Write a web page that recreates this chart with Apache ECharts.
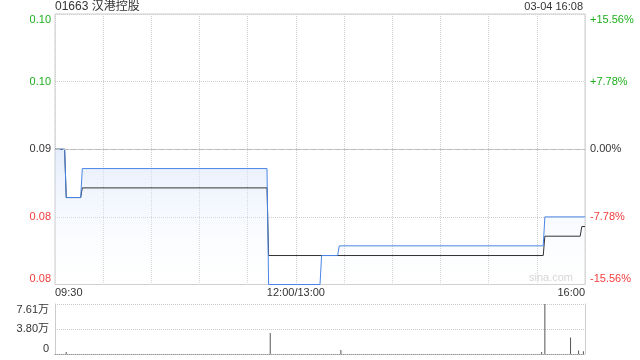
<!DOCTYPE html>
<html><head><meta charset="utf-8">
<script src="https://cdn.jsdelivr.net/npm/echarts@6/dist/echarts.min.js"></script>
<style>html,body{margin:0;padding:0;background:#fff}#c{width:640px;height:360px}</style>
</head><body><div id="c"></div>
<script>
const stockTitle = '01663 汉港控股';
const stampText = '03-04 16:08';
const preClose = 0.09;
const sessions = [['09:30','12:00'],['13:01','16:00']];
const priceTimes  = ['09:30','09:36','09:37','09:46','09:47','11:42','11:43','13:15','13:16','13:26','13:27','15:34','15:35','16:00'];
const priceValues = [0.090, 0.090, 0.085, 0.085, 0.088, 0.088, 0.076, 0.076, 0.079, 0.079, 0.080, 0.080, 0.083, 0.083];
const avgTimes  = ['09:30','09:36','09:37','09:46','09:47','11:42','11:43','15:34','15:35','15:57','15:58','16:00'];
const avgValues = [0.090, 0.090, 0.085, 0.085, 0.086, 0.086, 0.079, 0.079, 0.081, 0.081, 0.082, 0.082];
const volTimes  = ['09:37','11:44','13:28','15:33','15:35','15:51','15:56','15:59'];
const volValues = [3000, 32000, 6000, 3000, 76100, 25300, 5500, 4000];
const xLabelShown = ['09:30','12:00','16:00'];
const volMax = 76100;

function toMin(s){const p=s.split(':');return +p[0]*60+ +p[1];}
function pad(n){return (n<10?'0':'')+n;}
const minutes = [];
sessions.forEach(function(r){for(let m=toMin(r[0]);m<=toMin(r[1]);m++){minutes.push(pad(Math.floor(m/60))+':'+pad(m%60));}});

const GREEN='#1db01d', RED='#f23c3c', DARK='#333';
function off(p){return (p-preClose)*1000;}
function col(v){return v>0.0001?GREEN:(v<-0.0001?RED:DARK);}
const priceData = priceTimes.map(function(t,i){return [t,off(priceValues[i])];});
const avgData = avgTimes.map(function(t,i){return [t,off(avgValues[i])];});

const chart = echarts.init(document.getElementById('c'), null, {renderer:'canvas'});
chart.setOption({
  animation:false,
  textStyle:{fontFamily:'Liberation Sans, Arial, "Noto Sans CJK SC", sans-serif'},
  title:[
    {text:stockTitle,left:55,top:1,padding:0,textStyle:{fontSize:12,fontWeight:'normal',color:'#333',fontFamily:'Liberation Sans, "Noto Sans CJK SC", sans-serif'}},
    {text:stampText,right:57,top:1,padding:0,textStyle:{fontSize:11,fontWeight:'normal',color:'#333',fontFamily:'Liberation Sans, sans-serif'}}
  ],
  graphic:[{type:'text',right:67,top:272,style:{text:'sina.com',fill:'#cfcfcf',font:'11px "Liberation Sans", sans-serif'}}],
  grid:[
    {left:55,right:55,top:14,height:270.5,show:true,borderColor:'#cccccc',borderWidth:1,backgroundColor:'transparent'},
    {left:55,right:55,top:304,height:50}
  ],
  xAxis:[
    {type:'category',gridIndex:0,data:minutes,boundaryGap:false,
     axisLine:{show:true,lineStyle:{color:'#cccccc'}},axisTick:{show:false},
     axisLabel:{show:true,fontSize:11,color:'#333',margin:3,alignMinLabel:'left',alignMaxLabel:'right',
       interval:function(i,v){return xLabelShown.indexOf(v)>=0;},
       formatter:function(v){return v==='12:00'?'12:00/13:00':v;}},
     splitLine:{show:true,interval:function(i){return i%30===0;},lineStyle:{color:'#d0d0d0',type:'dotted'}}},
    {type:'category',gridIndex:1,data:minutes,boundaryGap:false,
     axisLine:{show:true,lineStyle:{color:'#999',type:'dotted'}},axisTick:{show:false},axisLabel:{show:false},splitLine:{show:false}}
  ],
  yAxis:[
    {type:'value',gridIndex:0,min:-14,max:14,interval:7,position:'left',
     axisLine:{show:false},axisTick:{show:false},splitLine:{show:true,lineStyle:{color:'#d0d0d0',type:'dotted'}},
     axisLabel:{fontSize:11,margin:4,verticalAlignMaxLabel:'top',verticalAlignMinLabel:'bottom',
       formatter:function(v){return (preClose+v/1000).toFixed(2);},color:function(v){return col(+v);}}},
    {type:'value',gridIndex:0,min:-14,max:14,interval:7,position:'right',
     axisLine:{show:false},axisTick:{show:false},splitLine:{show:false},
     axisLabel:{fontSize:11,margin:5,verticalAlignMaxLabel:'top',verticalAlignMinLabel:'bottom',
       formatter:function(v){const pc=v/1000/preClose*100;if(Math.abs(pc)<1e-6)return '0.00%';return (pc>0?'+':'')+pc.toFixed(2)+'%';},
       color:function(v){return col(+v);}}},
    {type:'value',gridIndex:1,min:0,max:volMax,interval:volMax/2,position:'left',
     axisLine:{show:true,lineStyle:{color:'#cccccc'}},axisTick:{show:false},
     splitLine:{show:true,lineStyle:{color:'#c8c8c8',type:'dotted'}},
     axisLabel:{fontSize:11,color:'#333',margin:6,verticalAlignMaxLabel:'top',verticalAlignMinLabel:'bottom',
       formatter:function(v){return v===0?'0':(Math.floor(v/100+1e-6)/100).toFixed(2)+'万';}}},
    {type:'value',gridIndex:1,min:0,max:volMax,position:'right',
     axisLine:{show:true,lineStyle:{color:'#cccccc'}},axisTick:{show:false},axisLabel:{show:false},splitLine:{show:false}}
  ],
  series:[
    {type:'line',xAxisIndex:0,yAxisIndex:0,symbol:'none',data:priceData,
     lineStyle:{width:0,opacity:0},
     areaStyle:{origin:'start',color:new echarts.graphic.LinearGradient(0,0,0,1,[{offset:0,color:'rgba(205,222,250,0.75)'},{offset:1,color:'rgba(255,255,255,0.2)'}])},
     markLine:{silent:true,symbol:'none',label:{show:false},lineStyle:{color:'#bcbcbc',type:[5,3],width:1},data:[{yAxis:0}]},
     z:2},
    {type:'line',xAxisIndex:0,yAxisIndex:0,symbol:'none',data:avgData,
     lineStyle:{color:'#333',width:1},z:3},
    {type:'line',xAxisIndex:0,yAxisIndex:0,symbol:'none',data:priceData,
     lineStyle:{color:'#4a85e6',width:1},z:4},
    {type:'bar',xAxisIndex:1,yAxisIndex:2,barWidth:1,
     data:volTimes.map(function(t,i){return [t,volValues[i]];}),
     itemStyle:{color:'#555'}}
  ]
});
</script></body></html>
